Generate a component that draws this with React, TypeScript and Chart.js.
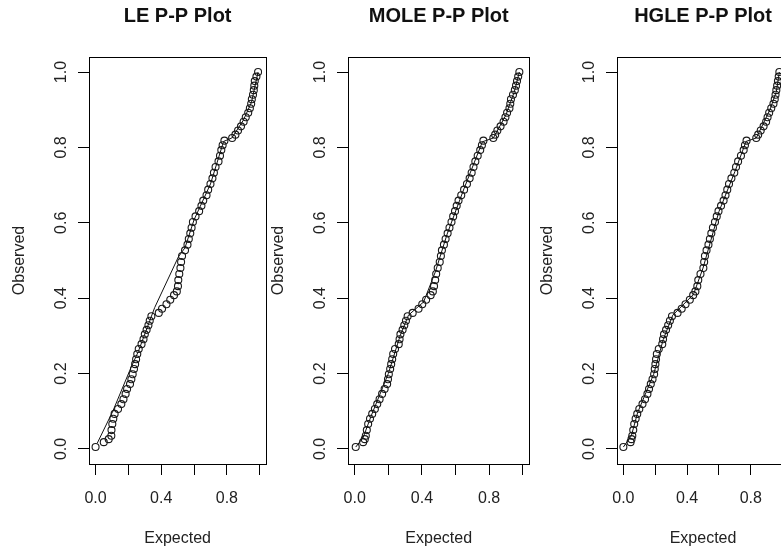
import React, { useEffect, useRef } from "react";
import { Chart, registerables } from "chart.js";

Chart.register(...registerables);

const FONT = "'Liberation Sans', Arial, Helvetica, sans-serif";

const TITLES = ["LE P-P Plot", "MOLE P-P Plot", "HGLE P-P Plot"];
const X_LABEL = "Expected";
const Y_LABEL = "Observed";
const AXIS_TICKS = [0, 0.2, 0.4, 0.6, 0.8, 1.0];
const X_TICK_LABELS = ["0.0", "", "0.4", "", "0.8", ""];
const Y_TICK_LABELS = ["0.0", "0.2", "0.4", "0.6", "0.8", "1.0"];

// Observed (empirical) probabilities, shared by all three panels
const OBSERVED = [
  0.005, 0.018, 0.026, 0.035, 0.05,
  0.066, 0.08, 0.093, 0.106, 0.119,
  0.132, 0.146, 0.159, 0.172, 0.185,
  0.198, 0.212, 0.225, 0.238, 0.252,
  0.265, 0.278, 0.291, 0.304, 0.316,
  0.328, 0.34, 0.352, 0.361, 0.372,
  0.384, 0.396, 0.408, 0.418, 0.432,
  0.448, 0.464, 0.48, 0.496, 0.512,
  0.527, 0.542, 0.557, 0.572, 0.587,
  0.602, 0.617, 0.631, 0.645, 0.659,
  0.673, 0.688, 0.703, 0.718, 0.733,
  0.748, 0.763, 0.778, 0.793, 0.806,
  0.818, 0.825, 0.834, 0.845, 0.856,
  0.868, 0.88, 0.892, 0.904, 0.916,
  0.928, 0.94, 0.952, 0.964, 0.976,
  0.988, 1.0,
];

// Expected (fitted) probabilities per model
const EXPECTED_LE = [
  0.0, 0.05, 0.08, 0.096, 0.097,
  0.102, 0.108, 0.116, 0.137, 0.157,
  0.17, 0.183, 0.192, 0.21, 0.218,
  0.226, 0.234, 0.241, 0.247, 0.254,
  0.263, 0.28, 0.292, 0.3, 0.311,
  0.322, 0.33, 0.34, 0.385, 0.405,
  0.432, 0.455, 0.478, 0.495, 0.502,
  0.504, 0.51, 0.517, 0.521, 0.527,
  0.545, 0.56, 0.568, 0.577, 0.585,
  0.593, 0.609, 0.631, 0.645, 0.656,
  0.676, 0.686, 0.7, 0.712, 0.721,
  0.731, 0.749, 0.758, 0.766, 0.774,
  0.785, 0.832, 0.852, 0.868, 0.886,
  0.902, 0.915, 0.93, 0.94, 0.948,
  0.952, 0.959, 0.964, 0.967, 0.97,
  0.98, 0.99,
];

const EXPECTED_MOLE = [
  0.006, 0.05, 0.06, 0.066, 0.072,
  0.08, 0.091, 0.104, 0.12, 0.134,
  0.148, 0.163, 0.178, 0.193, 0.198,
  0.203, 0.211, 0.217, 0.223, 0.229,
  0.24, 0.262, 0.267, 0.272, 0.285,
  0.295, 0.305, 0.315, 0.345, 0.38,
  0.402, 0.425, 0.452, 0.465, 0.472,
  0.479, 0.485, 0.494, 0.506, 0.513,
  0.519, 0.531, 0.541, 0.553, 0.564,
  0.576, 0.586, 0.597, 0.607, 0.618,
  0.634, 0.651, 0.668, 0.684, 0.696,
  0.707, 0.718, 0.732, 0.747, 0.757,
  0.766, 0.825, 0.836, 0.849, 0.868,
  0.886, 0.897, 0.907, 0.921, 0.926,
  0.93, 0.942, 0.953, 0.96, 0.966,
  0.973, 0.98,
];

const EXPECTED_HGLE = [
  0.0, 0.045, 0.051, 0.056, 0.062,
  0.068, 0.077, 0.087, 0.1, 0.12,
  0.136, 0.151, 0.161, 0.172, 0.183,
  0.193, 0.197, 0.201, 0.205, 0.21,
  0.222, 0.244, 0.249, 0.255, 0.268,
  0.281, 0.292, 0.305, 0.34, 0.366,
  0.39, 0.417, 0.438, 0.452, 0.464,
  0.47, 0.484, 0.502, 0.507, 0.512,
  0.522, 0.534, 0.543, 0.552, 0.562,
  0.575, 0.586, 0.597, 0.613, 0.629,
  0.641, 0.652, 0.663, 0.678, 0.696,
  0.707, 0.72, 0.738, 0.755, 0.763,
  0.773, 0.834, 0.846, 0.862, 0.88,
  0.896, 0.905, 0.915, 0.928, 0.942,
  0.95, 0.955, 0.96, 0.965, 0.97,
  0.975, 0.979,
];

// Thin reference lines drawn through each panel
const LINE_LE_X = [0.01, 0.105, 0.215, 0.26, 0.33, 0.36, 0.505, 0.545, 0.6, 0.7, 0.78, 0.83, 0.9, 0.95, 0.99];
const LINE_LE_Y = [0.015, 0.1, 0.215, 0.258, 0.34, 0.375, 0.51, 0.534, 0.608, 0.703, 0.816, 0.825, 0.872, 0.92, 1.0];
const LINE_MOLE_X = [0.006, 0.05, 0.1, 0.2, 0.27, 0.32, 0.41, 0.48, 0.55, 0.65, 0.76, 0.825, 0.9, 0.95, 0.98];
const LINE_MOLE_Y = [0.005, 0.03, 0.09, 0.2, 0.3, 0.355, 0.39, 0.47, 0.57, 0.69, 0.815, 0.825, 0.886, 0.948, 1.0];
const LINE_HGLE_X = [0.0, 0.05, 0.09, 0.19, 0.25, 0.31, 0.44, 0.5, 0.6, 0.7, 0.77, 0.834, 0.92, 0.96, 0.979];
const LINE_HGLE_Y = [0.005, 0.035, 0.097, 0.198, 0.29, 0.355, 0.41, 0.48, 0.63, 0.736, 0.816, 0.825, 0.9, 0.948, 1.0];

const Y_AXIS_W = 89;
const TOP_H = 57;
const BOTTOM_H = 89;
const CANVAS_H = 553;
const RIGHT_PAD = 10;

type PanelProps = {
  title: string;
  expected: number[];
  lineX: number[];
  lineY: number[];
  boxLeft: number;
  boxWidth: number;
};

function PPPanel({ title, expected, lineX, lineY, boxLeft, boxWidth }: PanelProps) {
  const ref = useRef<HTMLCanvasElement>(null);
  const canvasW = Y_AXIS_W + boxWidth + RIGHT_PAD;

  useEffect(() => {
    if (!ref.current) return;
    const boxPlugin = {
      id: "rbox",
      afterDraw(chart: any) {
        const { ctx, chartArea: a } = chart;
        ctx.save();
        ctx.strokeStyle = "#000";
        ctx.lineWidth = 1;
        ctx.strokeRect(
          Math.round(a.left) + 0.5,
          Math.round(a.top) + 0.5,
          Math.round(a.right - a.left),
          Math.round(a.bottom - a.top)
        );
        ctx.restore();
      },
    };
    const tickFont = { family: FONT, size: 16 };
    const chart = new Chart(ref.current, {
      type: "scatter",
      data: {
        datasets: [
          {
            data: lineX.map((x, i) => ({ x, y: lineY[i] })),
            showLine: true,
            borderColor: "#111",
            borderWidth: 1,
            pointRadius: 0,
            fill: false,
          },
          {
            data: expected.map((x, i) => ({ x, y: OBSERVED[i] })),
            showLine: false,
            pointRadius: 3.5,
            pointBorderColor: "#1a1a1a",
            pointBackgroundColor: "rgba(0,0,0,0)",
            pointBorderWidth: 1.1,
          },
        ],
      },
      options: {
        responsive: false,
        animation: false,
        layout: { padding: 0 },
        plugins: {
          legend: { display: false },
          tooltip: { enabled: false },
          title: {
            display: true,
            text: title,
            fullSize: false,
            color: "#111",
            font: { family: FONT, size: 20, weight: "bold" },
            padding: { top: 4, bottom: TOP_H - 28 },
          },
        },
        scales: {
          x: {
            type: "linear",
            min: -0.04,
            max: 1.04,
            afterBuildTicks: (s: any) => {
              s.ticks = AXIS_TICKS.map((v) => ({ value: v }));
            },
            afterFit: (s: any) => {
              s.height = BOTTOM_H;
            },
            border: { display: false },
            grid: { drawOnChartArea: false, drawTicks: true, tickLength: 11, color: "#000", tickColor: "#000" },
            ticks: {
              autoSkip: false,
              maxRotation: 0,
              minRotation: 0,
              padding: 14,
              color: "#222",
              font: tickFont,
              callback: (_v: any, i: number) => X_TICK_LABELS[i],
            },
            title: {
              display: true,
              text: X_LABEL,
              color: "#222",
              font: tickFont,
              padding: { top: 0, bottom: 5 },
            },
          },
          y: {
            type: "linear",
            min: -0.04,
            max: 1.04,
            afterBuildTicks: (s: any) => {
              s.ticks = AXIS_TICKS.map((v) => ({ value: v }));
            },
            afterFit: (s: any) => {
              s.width = Y_AXIS_W;
            },
            border: { display: false },
            grid: { drawOnChartArea: false, drawTicks: true, tickLength: 11, color: "#000", tickColor: "#000" },
            ticks: {
              autoSkip: false,
              minRotation: 90,
              maxRotation: 90,
              crossAlign: "center",
              padding: 5,
              color: "#222",
              font: tickFont,
              callback: (_v: any, i: number) => Y_TICK_LABELS[i],
            },
            title: {
              display: true,
              text: Y_LABEL,
              color: "#222",
              font: tickFont,
              padding: { top: 10, bottom: 0 },
            },
          },
        },
      } as any,
      plugins: [boxPlugin],
    });
    return () => chart.destroy();
  }, [title, expected, lineX, lineY, boxWidth]);

  return (
    <canvas
      ref={ref}
      width={canvasW}
      height={CANVAS_H}
      style={{ position: "absolute", left: boxLeft - Y_AXIS_W, top: 0, width: canvasW, height: CANVAS_H }}
    />
  );
}

export default function App() {
  return (
    <div
      style={{
        position: "absolute",
        left: 0,
        top: 0,
        width: 781,
        height: 553,
        overflow: "hidden",
        background: "#fff",
      }}
    >
      <PPPanel title={TITLES[0]} expected={EXPECTED_LE} lineX={LINE_LE_X} lineY={LINE_LE_Y} boxLeft={89} boxWidth={175} />
      <PPPanel title={TITLES[1]} expected={EXPECTED_MOLE} lineX={LINE_MOLE_X} lineY={LINE_MOLE_Y} boxLeft={348} boxWidth={179} />
      <PPPanel title={TITLES[2]} expected={EXPECTED_HGLE} lineX={LINE_HGLE_X} lineY={LINE_HGLE_Y} boxLeft={617} boxWidth={170} />
    </div>
  );
}
